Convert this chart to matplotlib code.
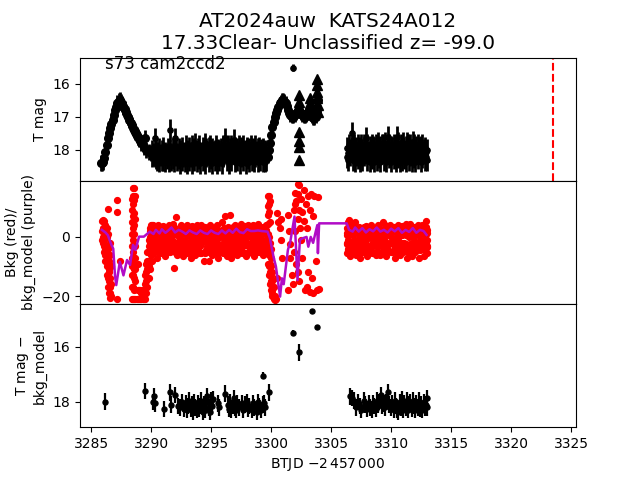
import matplotlib
matplotlib.use("Agg")
import matplotlib.pyplot as plt

# top panel, light curve
t_curve = [3285.8, 3285.9, 3286.0, 3286.1, 3286.2, 3286.3, 3286.4, 3286.5, 3286.6, 3286.7, 3286.8, 3286.9, 3287.0, 3287.1,
           3287.2, 3287.3, 3287.4, 3287.5, 3287.6, 3287.7, 3287.8, 3287.9, 3288.0, 3288.1, 3288.2, 3288.3, 3288.4, 3288.5,
           3288.6, 3288.7, 3288.8, 3288.9, 3289.0, 3289.2, 3289.4, 3289.5, 3289.6, 3289.8, 3290.0]
m_curve = [18.38, 18.38, 18.36, 18.25, 18.05, 17.85, 17.65, 17.5, 17.35, 17.22, 17.1, 16.95, 16.8, 16.7,
           16.6, 16.54, 16.5, 16.55, 16.62, 16.7, 16.78, 16.86, 16.95, 17.02, 17.1, 17.18, 17.25, 17.33,
           17.4, 17.47, 17.55, 17.6, 17.68, 17.8, 17.9, 17.65, 18.0, 18.05, 18.1]

t_band1 = [3290.1, 3290.2, 3290.3, 3290.4, 3290.5, 3290.6, 3290.7, 3290.8, 3290.9, 3291.0, 3291.1, 3291.2, 3291.3, 3291.4,
           3291.5, 3291.6, 3291.7, 3291.8, 3291.9, 3292.0, 3292.1, 3292.2, 3292.3, 3292.4, 3292.5, 3292.6, 3292.7, 3292.8,
           3292.9, 3293.0, 3293.1, 3293.2, 3293.3, 3293.4, 3293.5, 3293.6, 3293.7, 3293.8, 3293.9, 3294.0, 3294.1, 3294.2,
           3294.3, 3294.4, 3294.5, 3294.6, 3294.7, 3294.8, 3294.9, 3295.0, 3295.1, 3295.2, 3295.3, 3295.4, 3295.5, 3295.6,
           3295.7, 3295.8, 3295.9, 3296.0, 3296.1, 3296.2, 3296.3, 3296.4, 3296.5, 3296.6, 3296.7, 3296.8, 3296.9, 3297.0,
           3297.1, 3297.2, 3297.3, 3297.4, 3297.5, 3297.6, 3297.7, 3297.8, 3297.9, 3298.0, 3298.1, 3298.2, 3298.3, 3298.4,
           3298.5, 3298.6, 3298.7, 3298.8, 3298.9, 3299.0, 3299.1, 3299.2, 3299.3, 3299.4, 3299.5, 3299.6]
m_band1 = [18.2, 18.15, 17.65, 18.25, 18.3, 18.2, 18.35, 18.15, 18.3, 18.3, 18.1, 18.35, 18.25, 18.2,
           18.35, 17.4, 18.3, 18.25, 18.35, 17.65, 18.15, 18.3, 18.25, 18.4, 18.1, 18.3, 18.2, 18.35,
           18.15, 18.4, 18.05, 18.3, 18.2, 18.4, 18.0, 18.3, 18.15, 18.35, 18.05, 18.25, 18.4, 18.1,
           18.3, 17.95, 18.4, 18.2, 18.05, 18.35, 17.95, 18.25, 18.4, 18.05, 18.3, 18.1, 18.4, 18.0,
           18.3, 18.15, 18.4, 18.2, 18.05, 17.65, 18.3, 18.2, 18.4, 18.1, 18.3, 18.0, 17.7, 18.35,
           18.15, 18.3, 18.05, 18.4, 18.2, 17.95, 18.3, 18.1, 18.4, 18.0, 18.25, 18.35, 18.1, 18.3,
           18.0, 18.35, 18.2, 18.05, 18.35, 18.1, 18.3, 18.0, 18.35, 18.15, 18.35, 18.3]
m_band1b = [18.0, 18.1, 18.2, 17.95, 18.1, 18.05, 17.95, 18.15, 18.0, 17.9, 18.1, 18.05, 18.1, 17.95,
            18.1, 18.0, 18.1, 17.95, 18.15, 18.05, 17.9, 18.1, 17.95, 18.0, 18.15, 17.9, 18.05, 18.1,
            17.85, 18.0, 18.15, 17.9, 18.05, 17.85, 18.15, 17.95, 17.8, 18.1, 17.95, 17.85, 18.05, 18.15,
            17.9, 18.1, 17.8, 17.95, 18.1, 17.9, 17.85, 18.05, 17.95, 18.15, 18.0, 17.85, 18.1, 18.15,
            18.0, 17.95, 18.1, 17.85, 17.95, 18.1, 18.0, 17.85, 18.05, 17.95, 17.85, 18.1, 18.0, 17.9,
            18.05, 17.95, 17.85, 18.1, 17.9, 18.05, 17.85, 18.0, 18.1, 17.9, 18.05, 17.95, 17.85, 18.05,
            17.95, 18.1, 17.85, 18.05, 17.95, 17.9, 18.1, 18.05, 17.95, 18.1, 18.0, 18.1]

t_rise = [3299.7, 3299.8, 3299.9, 3300.0, 3300.1, 3300.2, 3300.3, 3300.4, 3300.5, 3300.6, 3300.7, 3300.8, 3300.9, 3301.0,
          3301.1, 3301.2, 3301.3, 3301.4, 3301.5, 3301.6, 3301.7, 3301.8, 3302.0, 3302.1, 3302.2, 3302.3, 3302.4,
          3302.5, 3302.6, 3302.7, 3302.8, 3302.9, 3303.0, 3303.1, 3303.2, 3303.3, 3303.4, 3303.5, 3303.6, 3303.7, 3303.8,
          3303.85, 3303.9]
m_rise = [18.2, 18.0, 17.8, 17.55, 17.3, 17.15, 17.0, 16.9, 16.8, 16.7, 16.6, 16.55, 16.5, 16.5,
          16.52, 16.58, 16.68, 16.8, 16.88, 16.95, 17.0, 17.0, 16.95, 16.9, 16.85, 16.8, 16.85,
          16.9, 16.95, 17.0, 17.0, 16.95, 16.9, 16.85, 16.8, 16.9, 17.0, 17.05, 17.05, 17.0, 16.85,
          16.7, 16.5]

# the lone bright point above the rise
t_lone = [3301.85]
m_lone = [15.52]

t_band2 = [3306.3, 3306.4, 3306.5, 3306.6, 3306.7, 3306.8, 3306.9, 3307.0, 3307.1, 3307.2, 3307.3, 3307.4, 3307.5, 3307.6,
           3307.7, 3307.8, 3307.9, 3308.0, 3308.1, 3308.2, 3308.3, 3308.4, 3308.5, 3308.6, 3308.7, 3308.8, 3308.9, 3309.0,
           3309.1, 3309.2, 3309.3, 3309.4, 3309.5, 3309.6, 3309.7, 3309.8, 3309.9, 3310.0, 3310.1, 3310.2, 3310.3, 3310.4,
           3310.5, 3310.6, 3310.7, 3310.8, 3310.9, 3311.0, 3311.1, 3311.2, 3311.3, 3311.4, 3311.5, 3311.6, 3311.7, 3311.8,
           3311.9, 3312.0, 3312.1, 3312.2, 3312.3, 3312.4, 3312.5, 3312.6, 3312.7, 3312.8, 3312.9, 3312.95]
m_band2 = [18.2, 18.3, 18.05, 18.0, 17.5, 18.3, 18.1, 18.35, 17.95, 18.25, 18.1, 18.35, 18.0, 18.3,
           18.15, 17.95, 17.65, 18.3, 18.1, 18.35, 18.0, 18.25, 17.9, 18.35, 18.1, 18.3, 17.95, 18.2,
           18.35, 18.05, 17.85, 18.3, 18.1, 18.35, 17.6, 18.2, 18.05, 18.35, 17.95, 18.25, 18.1, 18.35,
           17.6, 18.2, 18.35, 18.0, 18.3, 17.95, 18.25, 18.35, 18.05, 17.85, 18.3, 18.15, 18.35, 17.75,
           18.2, 18.35, 17.9, 18.25, 18.1, 17.95, 18.35, 18.2, 18.0, 18.3, 18.2, 18.3]
m_band2b = [17.95, 18.1, 17.85, 18.15, 17.95, 18.05, 17.85, 18.0, 18.15, 17.85, 17.95, 18.1, 17.85, 18.0,
            17.85, 18.1, 17.95, 17.85, 18.05, 17.9, 18.15, 17.85, 18.05, 17.95, 17.85, 18.1, 17.8, 18.0,
            17.9, 17.85, 18.05, 17.95, 17.8, 18.1, 17.95, 17.85, 18.1, 17.9, 18.05, 17.85, 17.95, 18.05,
            17.9, 17.8, 18.05, 17.85, 18.0, 17.8, 18.05, 17.9, 17.8, 18.05, 17.95, 17.85, 18.0, 18.1,
            17.85, 18.0, 18.1, 17.85, 17.95, 18.1, 17.9, 17.85, 18.1, 17.95, 18.05, 18.0]

t_tri = [3302.2, 3302.3, 3302.35, 3302.3, 3302.3, 3302.3, 3302.3, 3303.1, 3303.2, 3303.25, 3303.85, 3303.85, 3303.85, 3303.85, 3303.9, 3303.9]
m_tri = [16.75, 16.55, 16.35, 17.45, 17.72, 17.92, 18.3, 16.8, 16.6, 16.45, 15.85, 16.05, 16.25, 16.45, 16.65, 16.85]

# middle panel, background flux (red)
t_bkg = [3285.9, 3285.9, 3285.9, 3286.0, 3286.0, 3286.1, 3286.1, 3286.2, 3286.2, 3286.3, 3286.3, 3286.4, 3286.4, 3286.4, 3286.5, 3286.5, 3286.5,
         3286.5, 3286.6, 3286.6, 3286.6, 3286.6, 3286.7, 3286.7, 3287.2, 3287.2, 3287.2, 3287.4, 3288.4, 3288.4, 3288.4, 3288.4, 3288.4, 3288.5,
         3288.5, 3288.5, 3288.5, 3288.5, 3288.5, 3288.6, 3288.6, 3288.6, 3288.6, 3288.6, 3288.6, 3288.7, 3288.7, 3288.7, 3288.7, 3288.8, 3288.9,
         3289.0, 3289.1, 3289.2, 3289.3, 3289.4, 3289.5, 3289.5, 3289.6, 3289.6, 3289.7, 3289.7, 3289.8, 3289.8, 3289.8, 3289.9, 3289.9, 3289.9,
         3290.0, 3290.0, 3290.0, 3290.1, 3290.1, 3290.1]
v_bkg = [5.5, 2.0, -1.0, 5.8, 0.0, 5.5, -3.0, 4.0, -6.0, 3.0, -10.0, 9.5, 1.0, -14.0, -3.0, -8.0, -17.0,
         -12.0, -6.0, -14.0, -19.0, -20.5, -10.0, -16.0, 12.5, 8.5, -21.0, -8.0, -21.0, -17.0, -13.0, 5.0, 9.0, 16.5,
         14.0, 11.0, 7.0, 3.0, -21.0, 16.5, 12.5, 8.0, 1.0, -14.0, -21.0, 14.0, -3.0, -11.0, -21.0, -21.0, -9.0,
         -21.0, -21.0, -21.0, -21.0, -21.0, -21.0, -16.0, -19.0, -12.0, -17.0, -8.0, -14.0, -5.0, -1.0, -11.0, 0.0, 3.0,
         -6.0, -2.0, 4.0, -8.0, -3.0, 4.0]

t_bkg1 = [3290.2, 3290.3, 3290.4, 3290.5, 3290.6, 3290.7, 3290.8, 3290.9, 3291.0, 3291.1, 3291.2, 3291.3, 3291.4, 3291.5,
          3291.6, 3291.7, 3291.8, 3291.9, 3292.0, 3292.1, 3292.2, 3292.3, 3292.4, 3292.5, 3292.6, 3292.7, 3292.8, 3292.9,
          3293.0, 3293.1, 3293.2, 3293.3, 3293.4, 3293.5, 3293.6, 3293.7, 3293.8, 3293.9, 3294.0, 3294.1, 3294.2, 3294.3,
          3294.4, 3294.5, 3294.6, 3294.7, 3294.8, 3294.9, 3295.0, 3295.1, 3295.2, 3295.3, 3295.4, 3295.5, 3295.6, 3295.7,
          3295.8, 3295.9, 3296.0, 3296.1, 3296.2, 3296.3, 3296.4, 3296.5, 3296.6, 3296.7, 3296.8, 3296.9, 3297.0, 3297.1,
          3297.2, 3297.3, 3297.4, 3297.5, 3297.6, 3297.7, 3297.8, 3297.9, 3298.0, 3298.1, 3298.2, 3298.3, 3298.4, 3298.5,
          3298.6, 3298.7, 3298.8, 3298.9, 3299.0, 3299.1, 3299.2, 3299.3, 3299.4, 3299.5, 3299.6]
v_bkg1 = [3.9, -4.0, 0.5, -7.0, 4.2, -2.5, 1.5, -5.5, 3.6, -1.0, -6.5, 2.5, -3.5, 4.0,
          -5.0, 0.0, 4.3, -10.4, -2.0, 6.7, -6.0, 2.0, -4.0, 4.0, -1.0, -6.5, 3.0, -3.0,
          4.2, -5.0, 1.0, -7.0, 3.7, -2.0, 0.0, -6.0, 4.2, -3.5, 2.0, -5.5, 4.0, -1.5,
          -8.0, 3.3, -4.5, 1.0, -8.2, 4.0, -2.5, -6.0, 3.0, -0.5, -5.0, 4.2, -7.0, 1.5,
          -3.0, 5.2, -5.5, 0.5, 7.0, -6.5, 3.5, -2.0, 7.5, -7.0, 2.0, -4.0, 4.2, -1.0,
          -6.0, 3.0, -3.0, 4.5, -5.5, 0.5, 3.8, -6.5, -2.0, 4.2, -5.0, 1.0, -3.5, 4.0,
          -6.5, 2.0, -2.5, 4.3, -5.0, 0.0, 3.5, -6.0, 1.5, -4.0, 4.2]
v_bkg1b = [0.0, 2.0, -3.0, 1.0, -1.0, 2.5, -3.0, 0.5, -2.0, 2.0, 0.0, -3.5, 1.0, -1.0,
           2.0, -3.0, -1.5, 1.0, 3.0, -2.5, 0.5, -1.5, 2.0, -2.0, 1.5, -3.0, -1.0, 1.0,
           -2.5, 2.5, -3.5, 0.0, -1.0, 2.5, -4.0, 1.5, -1.5, 0.5, -3.0, 1.0, -2.0, 2.5,
           0.0, -1.5, 2.0, -3.0, 0.5, -1.0, 2.0, 0.5, -3.5, 2.5, 1.0, -2.0, -0.5, -3.5,
           2.0, 0.0, 2.5, -3.0, -1.0, 1.0, -1.5, 2.0, -3.5, 0.0, -2.0, 2.5, -0.5, -3.5,
           1.5, -1.0, 2.0, -2.0, 2.0, -3.0, -1.0, 1.0, 2.5, -3.0, 1.0, -2.5, 2.0, -1.0,
           0.5, -3.5, 2.0, -1.5, 1.5, -3.0, -1.0, 2.0, -2.5, 1.0, -1.0]
v_bkg1c = [-5.5, -2.0, 3.0, -4.5, -1.5, -5.5, 3.5, -3.0, -4.5, 0.5, 3.0, -5.0, -1.5, 2.0,
           -2.0, 3.5, -4.5, -2.5, -5.0, 1.0, -3.5, -5.0, 0.5, -5.0, 3.5, -1.5, -4.5, 2.5,
           -5.5, 0.5, -2.0, 3.0, -5.0, -4.0, 2.5, -1.0, -5.0, 3.0, -1.0, -3.0, -5.5, 0.5,
           3.0, -5.5, -1.0, -5.0, 3.0, -2.0, -4.5, 3.0, -2.0, -4.5, 3.5, -5.5, 2.5, -5.0,
           0.5, -2.5, -4.5, 3.0, -3.0, -5.0, 0.0, -5.5, 2.5, -2.5, 3.5, -5.5, -3.0, 1.5,
           -3.0, -5.0, 0.5, -4.5, -1.0, 3.0, -5.5, -2.0, 0.0, -5.5, 3.0, -4.5, -0.5, -5.5,
           3.0, -1.0, -5.0, 3.0, -3.0, 2.5, -5.0, -2.5, 3.5, -5.5, 2.5]

t_bkg2 = [3299.7, 3299.7, 3299.7, 3299.7, 3299.8, 3299.8, 3299.8, 3299.8, 3299.9, 3299.9, 3299.9, 3300.0, 3300.0, 3300.0, 3300.1, 3300.1,
          3300.1, 3300.2, 3300.2, 3300.3, 3300.3, 3300.4, 3300.5, 3300.5, 3300.6, 3300.7, 3300.8, 3300.8, 3300.9, 3301.4,
          3301.4, 3301.5, 3301.6, 3301.6, 3301.7, 3301.8, 3301.9, 3301.9, 3302.0, 3302.0, 3302.0, 3302.1, 3302.1, 3302.2, 3302.2,
          3302.2, 3302.2, 3302.3, 3302.3, 3302.3, 3302.4, 3302.5, 3302.5, 3302.6, 3302.6, 3302.7, 3302.7, 3302.8, 3302.9,
          3303.0, 3303.0, 3303.1, 3303.1, 3303.2, 3303.2, 3303.3, 3303.4, 3303.5, 3303.5, 3303.6, 3303.7, 3303.8, 3303.9, 3304.0]
v_bkg2 = [14.0, 10.5, 7.5, 4.5, 14.0, 8.5, 0.0, -6.0, 12.0, -2.0, -9.0, -4.0, -10.0, -15.0, -12.0, -18.0,
          -20.0, -17.0, -21.0, -20.0, -21.5, -21.0, -14.0, 8.0, 5.0, 3.0, 6.0, -1.0, -7.0, -18.0,
          7.5, 2.0, -2.5, -7.0, -13.0, -16.0, 9.0, -5.0, 15.0, 11.0, 2.0, 12.0, -9.0, 18.0, 14.5,
          -12.0, 6.0, 17.5, 9.0, -15.0, 3.0, 13.0, -1.0, 8.5, -7.0, 16.0, 5.5, -18.0, 11.0,
          3.0, -17.0, 14.0, -12.0, 9.0, -18.5, 14.5, -14.0, 7.0, -19.0, 14.0, -8.0, -18.0, 13.5, -17.5]

# extra reds that fill the steep columns
t_bkg4 = [3286.0, 3286.0, 3286.1, 3286.1, 3286.1, 3286.2, 3286.2, 3286.2, 3286.3, 3286.3, 3286.3, 3286.4, 3286.4, 3286.4, 3286.5, 3286.5, 3286.5,
          3286.6, 3286.6, 3286.6, 3286.7, 3288.4, 3288.4, 3288.4, 3288.4, 3288.4, 3288.5, 3288.5, 3288.5, 3288.5, 3288.5, 3288.6, 3288.6, 3288.6,
          3288.6, 3288.6, 3288.7, 3288.7, 3288.7, 3288.9, 3288.9, 3289.0, 3289.1, 3289.2, 3289.3, 3289.4, 3289.5, 3289.5, 3289.6, 3289.6, 3289.7,
          3289.7, 3289.7, 3289.8, 3289.8, 3289.8, 3289.9, 3289.9, 3289.9, 3289.9, 3290.0, 3290.0, 3290.1, 3290.1, 3290.1, 3299.7, 3299.7, 3299.7,
          3299.7, 3299.8, 3299.8, 3299.8, 3299.8, 3299.9, 3299.9, 3299.9, 3299.9, 3300.0, 3300.0, 3300.0, 3300.1, 3300.1]
v_bkg4 = [3.0, -2.0, 2.0, -1.0, -5.0, 1.0, -4.0, -8.0, 0.0, -6.0, -13.0, -4.0, -9.0, -17.0, -11.0, -15.0, -19.0,
          -2.0, -10.0, -17.0, -20.0, 13.0, 1.0, -3.0, -7.0, -10.0, -1.0, -5.0, -9.0, -13.0, -17.0, 4.0, -3.0, -7.0,
          -11.0, -18.0, 6.0, -7.0, -15.0, -21.0, -18.0, -18.0, -18.0, -19.0, -18.0, -18.0, -19.0, -13.0, -15.0, -9.0, -14.0,
          -11.0, -5.0, -10.0, -8.0, -3.0, -8.0, -5.0, -2.0, 2.0, -4.0, 1.0, -5.0, -1.0, 2.0, 1.0, -2.0, -5.0,
          -9.0, -3.0, -10.0, -13.0, 11.0, 5.0, -5.0, -12.0, -16.0, -7.0, -13.0, -18.0, -15.0, -19.0]

t_bkg3 = [3306.3, 3306.3, 3306.4, 3306.4, 3306.5, 3306.5, 3306.6, 3306.7, 3306.8, 3306.9, 3307.0, 3307.1, 3307.2, 3307.3, 3307.4,
          3307.5, 3307.6, 3307.7, 3307.8, 3307.9, 3308.0, 3308.1, 3308.2, 3308.3, 3308.4, 3308.5, 3308.6, 3308.7, 3308.8,
          3308.9, 3309.0, 3309.1, 3309.2, 3309.3, 3309.4, 3309.5, 3309.6, 3309.7, 3309.8, 3309.9, 3310.0, 3310.1, 3310.2,
          3310.3, 3310.4, 3310.5, 3310.6, 3310.7, 3310.8, 3310.9, 3311.0, 3311.1, 3311.2, 3311.3, 3311.4, 3311.5, 3311.6,
          3311.7, 3311.8, 3311.9, 3312.0, 3312.1, 3312.2, 3312.3, 3312.4, 3312.5, 3312.6, 3312.7, 3312.8, 3312.9, 3312.9, 3312.95, 3312.95]
v_bkg3 = [3.0, -5.5, -1.0, 5.0, 5.8, -3.0, -6.5, 4.0, 1.0, -4.0, 5.0, -6.0, -2.0, 3.5, -7.0,
          0.0, 3.0, -5.0, -2.0, 3.8, -6.5, 1.0, -3.5, 4.0, -5.5, -1.0, 3.0, -6.0, 1.5,
          4.0, -3.0, -6.0, 0.0, 5.0, -4.0, 4.0, -6.5, 1.5, -2.5, 4.2, -5.0, -0.5, 3.5,
          -7.0, 2.0, -3.5, 4.0, -6.0, 0.5, 3.7, -5.0, -2.0, 4.3, -7.0, 1.0, -3.5, 4.5,
          -6.5, 0.0, 3.5, -5.0, -2.0, 4.0, -7.0, 1.5, -3.5, 4.2, -6.5, 0.5, 3.0, 5.5, -5.5, -1.0]
v_bkg3b = [0.5, -2.5, 2.5, -4.0, 1.0, 0.5, -2.0, 1.0, -2.5, 2.0, -1.0, -3.0, 1.5, -1.0, -3.5,
           2.5, -2.0, 1.0, 2.0, -1.0, -3.0, 2.5, 0.0, 1.5, -2.5, 2.0, -1.5, -3.0, -1.0,
           1.5, 0.5, -2.5, 2.5, -1.5, 1.0, -1.5, -3.5, 3.0, 0.5, 1.0, -2.0, 2.5, -1.5,
           -3.5, -0.5, 1.0, 2.0, -2.5, 2.5, 0.5, -2.5, 1.5, 0.5, -3.5, 2.5, 0.0, 1.5,
           -3.0, 2.0, 0.5, -2.0, 1.5, 0.5, -3.5, -1.0, 1.0, 2.0, -3.0, -1.5, 1.0, -2.5, 1.5, -3.5]
v_bkg3c = [-2.0, 1.5, -4.5, 3.0, -5.0, -1.5, 3.0, -5.0, 3.5, -1.0, -5.0, 3.0, -4.5, 0.5, -5.0,
           -3.0, -5.0, 3.5, -4.5, 1.5, 0.5, -4.5, 3.0, -3.0, 0.0, -5.0, 0.5, 2.5, -5.0,
           -2.0, 3.0, 1.0, -5.0, -3.0, -5.5, 2.5, 0.5, -4.5, 3.5, -2.0, 3.0, -5.0, -4.5,
           3.0, -5.0, 3.5, -1.0, 3.0, -4.5, -2.0, 3.5, -4.5, -2.5, 3.0, -5.0, 3.5, -2.5,
           3.0, -4.5, -1.5, 3.0, -4.5, -2.5, 3.0, -4.5, 3.5, -1.5, 2.5, -4.5, -2.0, 3.5, -3.0, 2.5]

# middle panel, background model (purple)
t_model = [3285.9, 3286.2, 3286.4, 3286.7, 3286.85, 3287.0, 3287.1, 3287.4, 3287.7, 3288.0, 3288.25, 3288.5, 3288.7, 3289.0, 3289.4, 3289.9,
           3290.2, 3290.4, 3290.7, 3290.9, 3291.2, 3291.5, 3291.7, 3292.0, 3292.3, 3292.6, 3292.9, 3293.2, 3293.5, 3293.8,
           3294.1, 3294.4, 3294.7, 3295.0, 3295.3, 3295.6, 3295.9, 3296.2, 3296.5, 3296.8, 3297.1, 3297.4, 3297.7, 3298.0,
           3298.3, 3298.6, 3298.9, 3299.2, 3299.7, 3299.9, 3300.2, 3300.4, 3300.75, 3300.9, 3301.05, 3301.4, 3301.6, 3301.95,
           3302.2, 3302.4, 3302.6, 3302.95, 3303.1, 3303.3, 3303.5, 3303.7, 3303.85, 3303.9, 3304.0, 3306.3, 3306.5, 3306.8,
           3307.0, 3307.3, 3307.6, 3307.9, 3308.2, 3308.5, 3308.8, 3309.1, 3309.4, 3309.7, 3310.0, 3310.3, 3310.6, 3310.9,
           3311.2, 3311.5, 3311.8, 3312.1, 3312.4, 3312.7, 3312.95]
v_model = [2.4, 1.5, 0.6, -2.7, -4.0, -13.4, -16.3, -8.4, -13.0, -7.8, -9.5, -2.7, -4.4, 0.1, 0.1, 1.8,
           1.0, 2.4, 1.2, 2.6, 1.4, 2.4, 3.2, 1.5, 2.4, 1.8, 1.0, 2.2, 1.5, 1.0,
           2.2, 1.4, 1.0, 2.2, 1.4, 1.0, 2.2, 1.2, 2.4, 1.4, 2.8, 1.6, 1.3, 2.6,
           2.0, 2.0, 2.2, 2.0, 1.8, -0.4, -6.7, -10.0, -20.2, -14.0, -16.0, -4.4, -1.6, 6.9,
           -14.6, -1.0, -0.5, 0.0, -3.3, 0.0, -2.0, 1.5, 4.0, -5.5, 4.6, 4.6, 2.4, 1.8,
           3.2, 1.8, 3.0, 1.5, 2.6, 1.9, 3.2, 1.8, 2.4, 1.5, 2.8, 1.9, 3.0, 1.4,
           2.4, 1.7, 3.0, 1.4, 2.4, 2.0, 0.7]

# bottom panel
t_diff = [3286.17, 3289.5, 3290.2, 3290.25, 3290.3, 3291.1, 3291.6, 3291.65, 3292.0, 3292.25, 3292.45, 3292.6, 3292.75, 3292.9, 3293.0, 3293.1,
          3293.2, 3293.3, 3293.4, 3293.5, 3293.6, 3293.7, 3293.8, 3293.9, 3294.0, 3294.1, 3294.2, 3294.3, 3294.4, 3294.5,
          3294.6, 3294.7, 3294.8, 3294.9, 3295.0, 3295.1, 3295.2, 3295.6, 3295.7, 3296.2, 3296.4, 3296.5, 3296.6, 3296.7,
          3296.8, 3296.9, 3297.0, 3297.1, 3297.2, 3297.3, 3297.6, 3297.7, 3297.8, 3298.0, 3298.1, 3298.2, 3298.4, 3298.5,
          3298.6, 3298.8, 3298.9, 3299.0, 3299.2, 3299.3, 3299.4, 3299.5, 3299.8]
m_diff = [17.99, 17.6, 18.0, 17.8, 18.05, 18.25, 17.65, 18.1, 17.75, 18.15, 18.2, 18.0, 18.25, 18.05, 18.3, 18.15,
          17.95, 18.25, 18.1, 18.35, 18.0, 18.2, 18.3, 18.05, 18.25, 18.15, 17.95, 18.35, 18.1, 18.3,
          18.0, 17.8, 18.2, 18.35, 17.95, 18.15, 17.9, 18.05, 18.2, 17.7, 18.1, 18.25, 18.0, 18.3,
          18.15, 17.85, 18.2, 18.3, 18.05, 18.2, 18.05, 18.3, 18.1, 18.0, 18.25, 18.15, 18.3, 18.05,
          18.2, 18.35, 18.0, 18.15, 18.3, 18.1, 18.05, 18.2, 17.65]

t_diff2 = [3306.6, 3306.7, 3306.9, 3307.1, 3307.2, 3307.4, 3307.5, 3307.7, 3307.85, 3308.0, 3308.15, 3308.25, 3308.4, 3308.5, 3308.6,
           3308.7, 3308.8, 3308.9, 3309.0, 3309.15, 3309.25, 3309.4, 3309.5, 3309.6, 3309.75, 3309.85, 3310.0, 3310.1, 3310.2,
           3310.3, 3310.4, 3310.5, 3310.6, 3310.7, 3310.8, 3310.9, 3311.0, 3311.1, 3311.2, 3311.3, 3311.4, 3311.5, 3311.6,
           3311.7, 3311.8, 3311.9, 3312.0, 3312.1, 3312.2, 3312.3, 3312.4, 3312.5, 3312.6, 3312.7, 3312.8, 3312.9, 3313.0, 3313.0]
m_diff2 = [17.8, 17.85, 17.95, 18.2, 18.0, 18.15, 18.3, 17.95, 18.1, 18.25, 18.05, 18.2, 18.3, 18.05, 18.15,
           18.25, 17.95, 18.1, 18.0, 17.75, 18.15, 18.05, 18.2, 18.0, 17.65, 18.1, 18.2, 18.05, 18.3,
           17.95, 18.15, 18.3, 18.35, 18.0, 18.2, 17.9, 18.3, 18.05, 18.2, 17.95, 18.3, 18.1, 18.0,
           18.25, 17.95, 18.15, 18.3, 18.05, 18.2, 17.95, 18.25, 18.1, 18.3, 18.0, 18.2, 18.1, 17.85, 18.2]

# the bright points of the bottom panel
t_bright = [3299.35, 3301.85, 3302.3, 3303.4, 3303.85]
m_bright = [17.05, 15.5, 16.2, 14.7, 15.27]
e_bright = [0.12, 0.12, 0.3, 0.05, 0.05]

peak_line = 3323.5

fig, (ax1, ax2, ax3) = plt.subplots(3, 1, sharex=True, figsize=(6.4, 4.8), dpi=100)
fig.subplots_adjust(hspace=0)

kw = dict(fmt='o', color='k', ms=3.8, elinewidth=2)
ax1.errorbar(t_curve, m_curve, yerr=0.24, fmt='o', color='k', ms=5.5, elinewidth=2)
ax1.errorbar(t_band1, m_band1, yerr=0.32, **kw)
ax1.errorbar(t_band1, m_band1b, yerr=0.3, **kw)
ax1.errorbar(t_rise, m_rise, yerr=0.2, fmt='o', color='k', ms=5.5, elinewidth=2)
ax1.errorbar(t_lone, m_lone, yerr=0.1, **kw)
ax1.errorbar(t_band2, m_band2, yerr=0.33, **kw)
ax1.errorbar(t_band2, m_band2b, yerr=0.33, **kw)
ax1.plot(t_tri, m_tri, '^', color='k', ms=6.5)
ax1.axvline(peak_line, color='r', ls='--', lw=1.5)
ax1.set_ylim(18.93, 15.22)
ax1.set_yticks([16, 17, 18])
ax1.set_ylabel('T mag')
ax1.text(3286.2, 15.42, 's73 cam2ccd2', fontsize=12, va='center')
ax1.set_title('AT2024auw  KATS24A012\n17.33Clear- Unclassified z= -99.0', fontsize=14.4)

ax2.plot(t_bkg + t_bkg4 + t_bkg1 + t_bkg1 + t_bkg1 + t_bkg2 + t_bkg3 + t_bkg3 + t_bkg3,
         v_bkg + v_bkg4 + v_bkg1 + v_bkg1b + v_bkg1c + v_bkg2 + v_bkg3 + v_bkg3b + v_bkg3c,
         'o', color='r', ms=4.2)
ax2.plot(t_model, v_model, '-', color='#b10cc6', lw=1.8)
ax2.set_ylim(-22.7, 19)
ax2.set_yticks([-20, 0])
ax2.set_ylabel('Bkg (red)/\nbkg_model (purple)')

kw3 = dict(fmt='o', color='k', ms=3.6, elinewidth=1.6)
ax3.errorbar(t_diff, m_diff, yerr=0.3, **kw3)
ax3.errorbar(t_diff2, m_diff2, yerr=0.3, **kw3)
ax3.errorbar(t_bright, m_bright, yerr=e_bright, **kw3)
ax3.set_ylim(18.92, 14.44)
ax3.set_yticks([16, 18])
ax3.set_ylabel('T mag $-$\nbkg_model')
ax3.set_xlabel(r'BTJD $-2\,457\,000$')
ax3.set_xlim(3284.08, 3325.4)
ax3.set_xticks(range(3285, 3330, 5))

for ax in (ax1, ax2):
    ax.tick_params(axis='x', which='both', bottom=False, labelbottom=False)

fig.savefig('out.png', dpi=100)
